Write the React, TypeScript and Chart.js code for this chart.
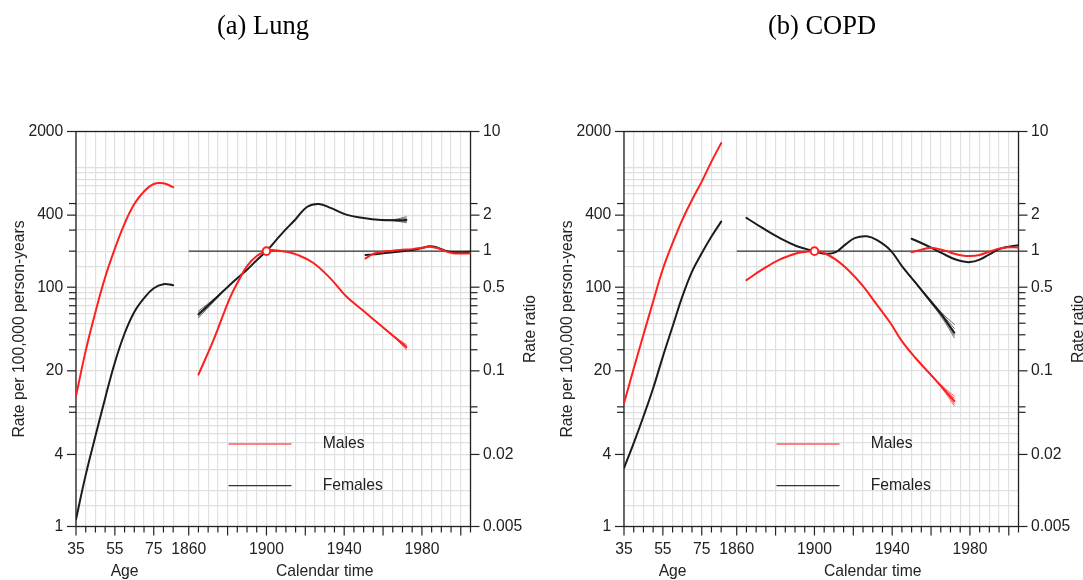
import React, { useEffect, useRef } from "react";
import { Chart, registerables } from "chart.js";

Chart.register(...registerables);

// ---------------- data ----------------
const AGES = [35, 40, 45, 50, 55, 60, 65, 70, 75, 80, 85];

// (a) Lung
const LUNG_AGE_MALES = [12.3, 29.5, 62, 121, 210, 340, 495, 630, 728, 738, 686];
const LUNG_AGE_FEMALES = [1.15, 2.7, 5.7, 11.8, 23.5, 41, 62, 81, 98, 106, 104];

const LUNG_COH_M_YEARS = [1865, 1873, 1881, 1886, 1890, 1895, 1900, 1904, 1910, 1916, 1924, 1933, 1941, 1950, 1959, 1967, 1972];
const LUNG_COH_M = [0.093, 0.185, 0.4, 0.58, 0.75, 0.91, 1.0, 1.02, 0.99, 0.93, 0.8, 0.59, 0.42, 0.316, 0.238, 0.185, 0.158];
const LUNG_COH_F_YEARS = [1865, 1873, 1881, 1890, 1895, 1900, 1907, 1915, 1921, 1927, 1933, 1941, 1950, 1959, 1966, 1972];
const LUNG_COH_F = [0.296, 0.39, 0.52, 0.7, 0.84, 1.0, 1.35, 1.85, 2.35, 2.48, 2.3, 2.02, 1.89, 1.82, 1.81, 1.82];

const LUNG_COH_M_END_FAN_YEARS = [1959, 1967, 1972];
const LUNG_COH_M_END_FAN = [
  [0.238, 0.188, 0.166],
  [0.238, 0.187, 0.162],
  [0.238, 0.183, 0.153],
  [0.238, 0.182, 0.15],
];
const LUNG_COH_F_START_FAN_YEARS = [1865, 1873, 1881];
const LUNG_COH_F_START_FAN = [
  [0.315, 0.4, 0.52],
  [0.305, 0.395, 0.52],
  [0.287, 0.385, 0.52],
  [0.277, 0.38, 0.52],
];
const LUNG_COH_F_END_FAN_YEARS = [1959, 1966, 1972];
const LUNG_COH_F_END_FAN = [
  [1.82, 1.84, 1.94],
  [1.82, 1.825, 1.88],
  [1.82, 1.8, 1.77],
  [1.82, 1.79, 1.73],
];

const LUNG_PER_YEARS = [1951, 1955, 1960, 1965, 1970, 1975, 1980, 1984, 1988, 1992, 1996, 2000, 2005];
const LUNG_PER_M = [0.87, 0.95, 0.99, 1.01, 1.03, 1.04, 1.07, 1.09, 1.06, 1.0, 0.96, 0.955, 0.96];
const LUNG_PER_F = [0.93, 0.94, 0.96, 0.98, 1.0, 1.02, 1.06, 1.1, 1.07, 1.01, 0.98, 0.98, 0.99];

// (b) COPD
const COPD_AGE_MALES = [10.7, 20.9, 40, 76, 142, 233, 365, 536, 762, 1121, 1600];
const COPD_AGE_FEMALES = [3.08, 4.97, 8.3, 14.3, 26.3, 46.9, 83.4, 135, 192, 265, 353];

const COPD_COH_M_YEARS = [1865, 1873, 1882, 1891, 1896, 1900, 1904, 1911, 1918, 1925, 1932, 1939, 1945, 1952, 1959, 1966, 1972];
const COPD_COH_M = [0.573, 0.7, 0.85, 0.96, 0.99, 1.0, 0.98, 0.85, 0.68, 0.51, 0.359, 0.252, 0.177, 0.128, 0.096, 0.072, 0.0558];
const COPD_COH_F_YEARS = [1865, 1873, 1882, 1891, 1900, 1906, 1911, 1916, 1921, 1927, 1932, 1939, 1945, 1952, 1959, 1966, 1972];
const COPD_COH_F = [1.9, 1.57, 1.29, 1.1, 1.0, 0.95, 0.98, 1.14, 1.29, 1.33, 1.24, 1.02, 0.75, 0.545, 0.395, 0.286, 0.208];

const COPD_COH_M_END_FAN_YEARS = [1952, 1959, 1966, 1972];
const COPD_COH_M_END_FAN = [
  [0.128, 0.097, 0.074, 0.0617],
  [0.128, 0.0965, 0.073, 0.0588],
  [0.128, 0.0955, 0.071, 0.053],
  [0.128, 0.095, 0.07, 0.0509],
];
const COPD_COH_F_END_FAN_YEARS = [1945, 1952, 1959, 1966, 1972];
const COPD_COH_F_END_FAN = [
  [0.75, 0.55, 0.405, 0.3, 0.244],
  [0.75, 0.548, 0.4, 0.293, 0.226],
  [0.75, 0.542, 0.39, 0.279, 0.198],
  [0.75, 0.54, 0.385, 0.272, 0.189],
];

const COPD_PER_YEARS = [1950, 1955, 1959, 1963, 1968, 1972, 1976, 1980, 1985, 1990, 1995, 2000, 2005];
const COPD_PER_M = [0.98, 1.03, 1.065, 1.05, 1.0, 0.95, 0.92, 0.91, 0.93, 0.99, 1.05, 1.08, 1.07];
const COPD_PER_F = [1.27, 1.17, 1.09, 1.01, 0.92, 0.86, 0.825, 0.81, 0.85, 0.94, 1.04, 1.09, 1.12];

// ticks
const AGE_TICKS = [35, 40, 45, 50, 55, 60, 65, 70, 75, 80, 85];
const AGE_LABELS = [35, 55, 75];
const YEAR_TICKS = [1860, 1865, 1870, 1875, 1880, 1885, 1890, 1895, 1900, 1905, 1910, 1915, 1920, 1925, 1930, 1935, 1940, 1945, 1950, 1955, 1960, 1965, 1970, 1975, 1980, 1985, 1990, 1995, 2000, 2005];
const YEAR_LABELS = [1860, 1900, 1940, 1980];
const YEAR_MAJOR = [1860, 1880, 1900, 1920, 1940, 1960, 1980, 2000];
const RATE_LABELS = [1, 4, 20, 100, 400, 2000];
const RATE_MINOR = [9, 10, 30, 40, 50, 60, 70, 80, 90, 200, 300, 500];
const RATE_GRID = [1, 1.5, 2, 3, 4, 5, 6, 7, 8, 9, 10, 15, 20, 30, 40, 50, 60, 70, 80, 90, 100, 150, 200, 300, 400, 500, 600, 700, 800, 900, 1000, 2000];
const RATIO_LABELS = [0.005, 0.02, 0.1, 0.5, 1, 2, 10];
const RATIO_MINOR = [0.045, 0.05, 0.15, 0.2, 0.25, 0.3, 0.35, 0.4, 0.45, 1.5, 2.5];

// ---------------- layout / style ----------------
const W = 548;
const H = 580;
const PLOT_LEFT = 76;
const PLOT_RIGHT = 470.5;
const PLOT_TOP = 131.5;
const PLOT_BOTTOM = 526.5;
const AGE_SHIFT = 1767; // age axis sits left of the calendar axis
const FRAME_MIN = 1802;
const FRAME_MAX = 2005;

const RED = "#ff1f1f";
const BLACK = "#1c1c1c";
const RED_FAN = "rgba(255,50,50,0.85)";
const BLACK_FAN = "rgba(40,40,40,0.75)";
const GRID = "#e0e0e0";
const AXIS = "#222";
const SANS = "'Liberation Sans', Arial, sans-serif";
const SERIF = "'Liberation Serif', 'Times New Roman', serif";
const FS = 15.7;

type Fan = { years: number[]; lines: number[][]; color: string };
type PanelData = {
  title: string;
  titleX: number;
  ageM: number[];
  ageF: number[];
  cohMYears: number[];
  cohM: number[];
  cohFYears: number[];
  cohF: number[];
  perYears: number[];
  perM: number[];
  perF: number[];
  fans: Fan[];
};

const LUNG: PanelData = {
  title: "(a) Lung",
  titleX: 263,
  ageM: LUNG_AGE_MALES,
  ageF: LUNG_AGE_FEMALES,
  cohMYears: LUNG_COH_M_YEARS,
  cohM: LUNG_COH_M,
  cohFYears: LUNG_COH_F_YEARS,
  cohF: LUNG_COH_F,
  perYears: LUNG_PER_YEARS,
  perM: LUNG_PER_M,
  perF: LUNG_PER_F,
  fans: [
    { years: LUNG_COH_M_END_FAN_YEARS, lines: LUNG_COH_M_END_FAN, color: RED_FAN },
    { years: LUNG_COH_F_START_FAN_YEARS, lines: LUNG_COH_F_START_FAN, color: BLACK_FAN },
    { years: LUNG_COH_F_END_FAN_YEARS, lines: LUNG_COH_F_END_FAN, color: BLACK_FAN },
  ],
};

const COPD: PanelData = {
  title: "(b) COPD",
  titleX: 274,
  ageM: COPD_AGE_MALES,
  ageF: COPD_AGE_FEMALES,
  cohMYears: COPD_COH_M_YEARS,
  cohM: COPD_COH_M,
  cohFYears: COPD_COH_F_YEARS,
  cohF: COPD_COH_F,
  perYears: COPD_PER_YEARS,
  perM: COPD_PER_M,
  perF: COPD_PER_F,
  fans: [
    { years: COPD_COH_M_END_FAN_YEARS, lines: COPD_COH_M_END_FAN, color: RED_FAN },
    { years: COPD_COH_F_END_FAN_YEARS, lines: COPD_COH_F_END_FAN, color: BLACK_FAN },
  ],
};

function curve(xs: number[], ys: number[], color: string, width: number, xAxisID: string, yAxisID: string) {
  return {
    data: xs.map((x, i) => ({ x, y: ys[i] })),
    borderColor: color,
    backgroundColor: color,
    borderWidth: width,
    pointRadius: 0,
    pointHoverRadius: 0,
    fill: false,
    tension: 0.4,
    cubicInterpolationMode: "default",
    borderJoinStyle: "round",
    borderCapStyle: "round",
    xAxisID,
    yAxisID,
  };
}

function buildDatasets(p: PanelData) {
  const ds: any[] = [];
  ds.push({
    data: [{ x: 1900, y: 1 }],
    showLine: false,
    pointRadius: 3.8,
    pointBorderWidth: 2,
    pointBorderColor: RED,
    pointBackgroundColor: "#ffffff",
    xAxisID: "x",
    yAxisID: "yr",
  });
  ds.push(curve(AGES, p.ageM, RED, 2, "xAge", "y"));
  ds.push(curve(p.cohMYears, p.cohM, RED, 2, "x", "yr"));
  ds.push(curve(p.perYears, p.perM, RED, 2, "x", "yr"));
  ds.push(curve(AGES, p.ageF, BLACK, 2, "xAge", "y"));
  ds.push(curve(p.cohFYears, p.cohF, BLACK, 2, "x", "yr"));
  ds.push(curve(p.perYears, p.perF, BLACK, 2, "x", "yr"));
  p.fans.forEach((f) => f.lines.forEach((l) => ds.push(curve(f.years, l, f.color, 0.9, "x", "yr"))));
  ds.push({
    data: [
      { x: 1860, y: 1 },
      { x: FRAME_MAX, y: 1 },
    ],
    borderColor: "#333",
    borderWidth: 1.2,
    pointRadius: 0,
    xAxisID: "x",
    yAxisID: "yr",
  });
  return ds;
}

function makeDecor(p: PanelData) {
  return {
    id: "apcDecor",
    beforeDatasetsDraw(chart: any) {
      const { ctx, chartArea: ca } = chart;
      ctx.save();
      ctx.strokeStyle = AXIS;
      ctx.lineWidth = 1.3;
      ctx.strokeRect(ca.left, ca.top, ca.right - ca.left, ca.bottom - ca.top);
      ctx.restore();
    },
    afterDraw(chart: any) {
      const { ctx, chartArea: ca, scales } = chart;
      const yS = scales.y;
      const yR = scales.yr;
      const xS = scales.x;
      const xA = scales.xAge;
      ctx.save();
      ctx.strokeStyle = AXIS;
      ctx.lineWidth = 1.2;
      const hTick = (x: number, y: number, len: number) => {
        ctx.beginPath();
        ctx.moveTo(x, y);
        ctx.lineTo(x + len, y);
        ctx.stroke();
      };
      const vTick = (x: number, len: number) => {
        ctx.beginPath();
        ctx.moveTo(x, ca.bottom);
        ctx.lineTo(x, ca.bottom + len);
        ctx.stroke();
      };
      RATE_LABELS.forEach((v) => hTick(ca.left, yS.getPixelForValue(v), -9));
      RATE_MINOR.forEach((v) => hTick(ca.left, yS.getPixelForValue(v), -7));
      RATIO_LABELS.forEach((v) => hTick(ca.right, yR.getPixelForValue(v), 9));
      RATIO_MINOR.forEach((v) => hTick(ca.right, yR.getPixelForValue(v), 7));
      AGE_TICKS.forEach((a) => vTick(xA.getPixelForValue(a), AGE_LABELS.includes(a) ? 9 : 6));
      YEAR_TICKS.forEach((t) => vTick(xS.getPixelForValue(t), YEAR_MAJOR.includes(t) ? 9 : 6));

      // titles
      ctx.fillStyle = "#000";
      ctx.font = `26.5px ${SERIF}`;
      ctx.textAlign = "center";
      ctx.textBaseline = "alphabetic";
      ctx.fillText(p.title, p.titleX, 33.5);

      ctx.fillStyle = AXIS;
      ctx.font = `${FS}px ${SANS}`;
      const ageMid = (xA.getPixelForValue(35) + xA.getPixelForValue(85)) / 2;
      const calMid = (xS.getPixelForValue(1860) + xS.getPixelForValue(2000)) / 2;
      ctx.fillText("Age", ageMid, 576);
      ctx.fillText("Calendar time", calMid, 576);

      const midY = (ca.top + ca.bottom) / 2;
      ctx.save();
      ctx.translate(24, midY);
      ctx.rotate(-Math.PI / 2);
      ctx.fillText("Rate per 100,000 person-years", 0, 0);
      ctx.restore();
      ctx.save();
      ctx.translate(535, midY);
      ctx.rotate(-Math.PI / 2);
      ctx.fillText("Rate ratio", 0, 0);
      ctx.restore();

      // legend
      ctx.lineWidth = 1.6;
      ctx.strokeStyle = "#ff5a5a";
      ctx.beginPath();
      ctx.moveTo(228.5, 444);
      ctx.lineTo(291.5, 444);
      ctx.stroke();
      ctx.lineWidth = 1.2;
      ctx.strokeStyle = "#333";
      ctx.beginPath();
      ctx.moveTo(228.5, 485.7);
      ctx.lineTo(291.5, 485.7);
      ctx.stroke();
      ctx.textAlign = "left";
      ctx.textBaseline = "middle";
      ctx.fillStyle = AXIS;
      ctx.fillText("Males", 322.7, 444);
      ctx.fillText("Females", 322.7, 486);
      ctx.restore();
    },
  };
}

function buildConfig(p: PanelData): any {
  return {
    type: "line",
    data: { datasets: buildDatasets(p) },
    plugins: [makeDecor(p)],
    options: {
      responsive: false,
      animation: false,
      devicePixelRatio: 1,
      events: [],
      layout: { padding: { top: PLOT_TOP, left: 0, right: 0, bottom: 0 } },
      plugins: {
        legend: { display: false },
        title: { display: false },
        tooltip: { enabled: false },
      },
      scales: {
        x: {
          type: "linear",
          position: "bottom",
          min: FRAME_MIN,
          max: FRAME_MAX,
          afterBuildTicks: (s: any) => {
            s.ticks = [...AGE_TICKS.map((a) => a + AGE_SHIFT), ...YEAR_TICKS].map((v) => ({ value: v }));
          },
          afterFit: (s: any) => {
            s.height = H - PLOT_BOTTOM;
          },
          ticks: {
            autoSkip: false,
            maxRotation: 0,
            minRotation: 0,
            padding: 14,
            color: AXIS,
            font: { family: SANS, size: FS },
            callback: (v: number) => {
              if (v < 1856) {
                const age = v - AGE_SHIFT;
                return AGE_LABELS.includes(age) ? String(age) : "";
              }
              return YEAR_LABELS.includes(v) ? String(v) : "";
            },
          },
          grid: { color: GRID, lineWidth: 1.2, drawTicks: false },
          border: { display: false },
        },
        xAge: {
          type: "linear",
          display: false,
          min: 35,
          max: 35 + (FRAME_MAX - FRAME_MIN),
        },
        y: {
          type: "logarithmic",
          position: "left",
          min: 1,
          max: 2000,
          afterBuildTicks: (s: any) => {
            s.ticks = RATE_GRID.map((v) => ({ value: v }));
          },
          afterFit: (s: any) => {
            s.width = PLOT_LEFT;
          },
          ticks: {
            autoSkip: false,
            padding: 12.7,
            color: AXIS,
            font: { family: SANS, size: FS },
            callback: (v: number) => (RATE_LABELS.includes(v) ? String(v) : ""),
          },
          grid: { color: GRID, lineWidth: 1.2, drawTicks: false },
          border: { display: false },
        },
        yr: {
          type: "logarithmic",
          position: "right",
          min: 0.005,
          max: 10,
          afterBuildTicks: (s: any) => {
            s.ticks = RATIO_LABELS.map((v) => ({ value: v }));
          },
          afterFit: (s: any) => {
            s.width = W - PLOT_RIGHT;
          },
          ticks: {
            autoSkip: false,
            padding: 12.5,
            color: AXIS,
            font: { family: SANS, size: FS },
            callback: (v: number) => String(v),
          },
          grid: { drawOnChartArea: false, drawTicks: false },
          border: { display: false },
        },
      },
    },
  };
}

function Panel({ data, left }: { data: PanelData; left: number }) {
  const ref = useRef<HTMLCanvasElement>(null);
  useEffect(() => {
    const chart = new Chart(ref.current as HTMLCanvasElement, buildConfig(data));
    return () => chart.destroy();
  }, [data]);
  return (
    <canvas
      ref={ref}
      width={W}
      height={H}
      style={{ position: "absolute", left, top: 0, width: W, height: H }}
    />
  );
}

export default function App() {
  return (
    <div
      style={{
        position: "fixed",
        left: 0,
        top: 0,
        width: 1083,
        height: 580,
        overflow: "hidden",
        background: "#ffffff",
      }}
    >
      <Panel data={LUNG} left={0} />
      <Panel data={COPD} left={548} />
    </div>
  );
}
